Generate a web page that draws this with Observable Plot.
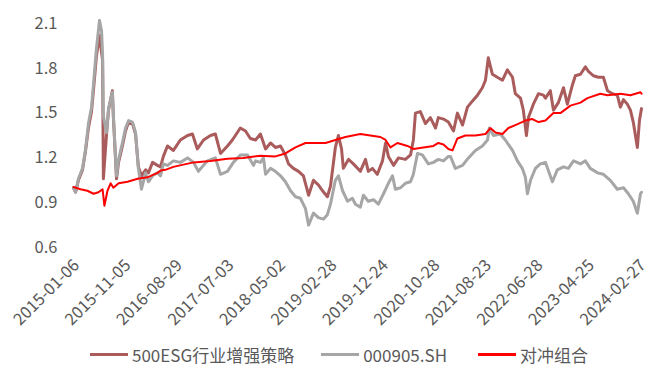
<!DOCTYPE html>
<html><head><meta charset="utf-8">
<script src="https://cdn.jsdelivr.net/npm/d3@7"></script>
<script src="https://cdn.jsdelivr.net/npm/@observablehq/plot@0.6"></script>
<style>
body{margin:0;background:#fff;font-family:"Noto Sans CJK SC",sans-serif;}
#wrap{position:relative;width:654px;height:378px;overflow:hidden;}
#legend{position:absolute;left:90px;top:342px;display:flex;align-items:center;font-size:17px;color:#595959;white-space:nowrap;}
.item{display:flex;align-items:center;}
.sw{width:38px;height:3px;margin-right:4px;}
</style></head><body><div id="wrap"><div id="chart"></div><div id="legend"></div></div>
<script>
// x = trading-day index since 2015-01-06
const tickDays = [0,200,400,600,800,1000,1200,1400,1600,1800,2000,2200];
const tickLabels = ["2015-01-06","2015-11-05","2016-08-29","2017-07-03","2018-05-02","2019-02-28","2019-12-24","2020-10-28","2021-08-23","2022-06-28","2023-04-25","2024-02-27"];
const yTicks = [0.6,0.9,1.2,1.5,1.8,2.1];
const seriesNames = ["500ESG行业增强策略","000905.SH","对冲组合"];
const seriesColors = ["#AA5C5C","#A6A6A6","#FF0000"];

const esg = [[0,1.00],[8,0.97],[19,1.05],[35,1.12],[47,1.25],[58,1.40],[70,1.51],[78,1.66],[89,1.88],[101,2.02],[113,1.85],[116,1.06],[128,1.35],[136,1.52],[151,1.65],[155,1.47],[167,1.06],[175,1.17],[190,1.28],[202,1.38],[214,1.44],[229,1.43],[241,1.36],[252,1.14],[264,1.08],[280,1.12],[291,1.10],[307,1.17],[326,1.15],[338,1.14],[349,1.21],[365,1.28],[388,1.25],[415,1.32],[443,1.35],[462,1.36],[481,1.26],[505,1.32],[532,1.35],[551,1.36],[571,1.23],[598,1.28],[617,1.32],[648,1.40],[668,1.38],[687,1.33],[707,1.32],[726,1.36],[746,1.26],[765,1.30],[784,1.27],[804,1.28],[823,1.22],[835,1.16],[854,1.13],[874,1.11],[893,1.08],[913,0.95],[932,1.05],[951,1.02],[967,0.98],[986,0.94],[998,1.01],[1017,1.27],[1029,1.35],[1041,1.26],[1048,1.13],[1068,1.19],[1087,1.16],[1114,1.11],[1134,1.19],[1145,1.11],[1161,1.13],[1180,1.09],[1200,1.18],[1212,1.30],[1223,1.21],[1243,1.15],[1262,1.20],[1289,1.19],[1309,1.22],[1320,1.32],[1328,1.50],[1347,1.51],[1367,1.43],[1386,1.47],[1406,1.40],[1417,1.47],[1437,1.46],[1456,1.44],[1476,1.38],[1491,1.50],[1511,1.42],[1530,1.54],[1549,1.58],[1569,1.62],[1588,1.67],[1600,1.72],[1611,1.87],[1627,1.76],[1646,1.74],[1666,1.72],[1685,1.79],[1705,1.74],[1716,1.63],[1736,1.60],[1747,1.52],[1759,1.35],[1767,1.47],[1786,1.56],[1806,1.63],[1825,1.62],[1833,1.60],[1852,1.65],[1864,1.52],[1883,1.57],[1903,1.67],[1918,1.56],[1938,1.69],[1949,1.75],[1969,1.76],[1988,1.81],[2000,1.78],[2019,1.75],[2039,1.74],[2058,1.74],[2074,1.65],[2093,1.63],[2112,1.62],[2124,1.54],[2136,1.59],[2151,1.56],[2163,1.52],[2174,1.44],[2190,1.27],[2198,1.45],[2206,1.53]];

const csi500 = [[0,1.00],[8,0.97],[19,1.06],[35,1.13],[47,1.26],[58,1.43],[70,1.54],[78,1.70],[89,1.93],[101,2.12],[109,2.05],[113,1.89],[116,1.48],[128,1.37],[136,1.53],[151,1.64],[155,1.48],[167,1.08],[175,1.19],[190,1.30],[202,1.40],[214,1.45],[229,1.44],[241,1.37],[252,1.13],[264,0.99],[280,1.10],[291,1.04],[307,1.08],[326,1.10],[338,1.08],[349,1.16],[365,1.15],[388,1.18],[415,1.17],[443,1.20],[466,1.17],[485,1.11],[520,1.18],[551,1.20],[571,1.09],[598,1.11],[621,1.17],[648,1.22],[676,1.22],[699,1.15],[707,1.18],[726,1.17],[738,1.20],[746,1.09],[765,1.13],[784,1.11],[804,1.08],[823,1.04],[843,0.98],[862,0.94],[881,0.93],[901,0.86],[913,0.75],[932,0.83],[951,0.80],[971,0.79],[986,0.82],[998,0.89],[1017,1.05],[1029,1.08],[1045,0.98],[1064,0.91],[1083,0.93],[1095,0.89],[1114,0.87],[1126,0.95],[1145,0.91],[1165,0.92],[1184,0.89],[1204,0.96],[1223,1.03],[1239,1.08],[1250,0.99],[1270,1.00],[1289,1.03],[1309,1.04],[1320,1.09],[1336,1.23],[1355,1.22],[1378,1.16],[1398,1.17],[1417,1.19],[1437,1.18],[1456,1.21],[1464,1.21],[1483,1.13],[1511,1.15],[1534,1.20],[1561,1.25],[1588,1.28],[1608,1.32],[1615,1.40],[1631,1.35],[1658,1.36],[1677,1.32],[1705,1.25],[1724,1.18],[1743,1.13],[1755,1.07],[1763,0.96],[1775,1.05],[1794,1.13],[1813,1.16],[1833,1.17],[1841,1.13],[1860,1.04],[1879,1.12],[1903,1.14],[1922,1.13],[1942,1.18],[1969,1.16],[1988,1.18],[2007,1.13],[2035,1.10],[2058,1.09],[2085,1.05],[2112,0.99],[2136,1.00],[2155,0.96],[2174,0.91],[2190,0.83],[2202,0.96],[2206,0.97]];

const hedge = [[0,1.005],[27,0.99],[54,0.98],[78,0.96],[97,0.97],[113,0.99],[120,0.88],[132,0.98],[144,1.03],[155,1.00],[175,1.03],[210,1.04],[249,1.06],[287,1.07],[326,1.10],[338,1.115],[357,1.12],[388,1.14],[466,1.17],[532,1.18],[598,1.195],[660,1.20],[726,1.215],[784,1.21],[823,1.23],[862,1.27],[901,1.30],[940,1.30],[979,1.30],[1017,1.32],[1056,1.34],[1114,1.36],[1153,1.35],[1192,1.34],[1212,1.32],[1231,1.27],[1258,1.30],[1297,1.28],[1320,1.26],[1359,1.27],[1398,1.28],[1417,1.30],[1437,1.29],[1456,1.26],[1472,1.25],[1491,1.33],[1522,1.35],[1561,1.35],[1600,1.36],[1619,1.40],[1639,1.37],[1666,1.36],[1689,1.40],[1716,1.42],[1755,1.45],[1782,1.46],[1806,1.44],[1833,1.45],[1864,1.50],[1891,1.50],[1930,1.55],[1969,1.57],[1996,1.60],[2046,1.63],[2074,1.62],[2124,1.63],[2163,1.62],[2202,1.64],[2206,1.63]];

const font = '"Noto Sans CJK SC", sans-serif';
const chart = Plot.plot({
  width: 654, height: 330,
  marginLeft: 73, marginRight: 13, marginTop: 23, marginBottom: 83,
  style: {fontFamily: font, fontSize: "16.5px", color: "#595959", background: "#fff", overflow: "visible"},
  x: {domain: [0, 2206]},
  y: {domain: [0.6, 2.1]},
  marks: [
    Plot.axisY({ticks: yTicks, tickSize: 0, tickPadding: 16, tickFormat: d3.format(".1f"), label: null}),
    Plot.axisX({ticks: tickDays, tickSize: 0, tickPadding: 15, dx: 3, tickRotate: -45, tickFormat: d => tickLabels[tickDays.indexOf(d)], label: null}),
    Plot.line(esg, {x: d => d[0], y: d => d[1], stroke: seriesColors[0], strokeWidth: 3}),
    Plot.line(csi500, {x: d => d[0], y: d => d[1], stroke: seriesColors[1], strokeWidth: 3}),
    Plot.line(hedge, {x: d => d[0], y: d => d[1], stroke: seriesColors[2], strokeWidth: 2})
  ]
});
document.getElementById("chart").appendChild(chart);

const lg = document.getElementById("legend");
const gaps = [0, 27, 31];
seriesNames.forEach((n, i) => {
  const it = document.createElement("div");
  it.className = "item";
  it.style.marginLeft = gaps[i] + "px";
  it.innerHTML = `<span class="sw" style="background:${seriesColors[i]}"></span><span>${n}</span>`;
  lg.appendChild(it);
});
</script></body></html>
